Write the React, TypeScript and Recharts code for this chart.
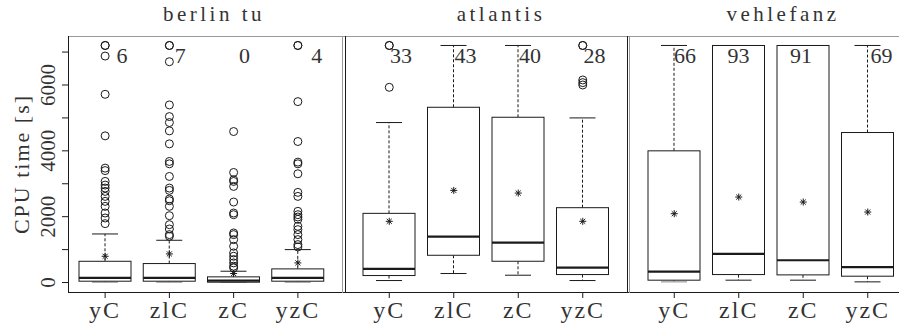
import React from "react";
import { ComposedChart, Bar, Scatter, XAxis, YAxis } from "recharts";

const INK = "#1a1a1a";
const FONT = "Liberation Serif, Times New Roman, DejaVu Serif, serif";

const categories = ["yC", "zlC", "zC", "yzC"];
const yTicks = [0, 1000, 2000, 3000, 4000, 5000, 6000, 7000];

// berlin tu
const berlinLow = [10, 10, 5, 10];
const berlinQ1 = [40, 40, 10, 40];
const berlinMedian = [142, 142, 60, 142];
const berlinQ3 = [645, 576, 172, 414];
const berlinHigh = [1475, 1283, 343, 1000];
const berlinMean = [797, 869, 273, 596];
const berlinTimeouts = [6, 7, 0, 4];
const berlinOutliers = [
  [7200, 7200, 6879, 5717, 4455, 3475, 3400, 3071, 2960, 2870, 2768, 2616, 2465, 2313, 2111, 1960, 1788],
  [7200, 7200, 6707, 5394, 5040, 4859, 4606, 4212, 3677, 3606, 3222, 2869, 2798, 2536, 2485, 2313, 2030, 1758, 1626, 1455, 1404],
  [4586, 3343, 3121, 3070, 2919, 2445, 2111, 2060, 1505, 1455, 1303, 1101, 899, 798, 697, 596, 495, 444],
  [7200, 7200, 5495, 4283, 3657, 3606, 3303, 2738, 2616, 2162, 2061, 1990, 1920, 1707, 1606, 1455, 1303, 1152, 1081],
];

// atlantis
const atlantisLow = [60, 273, 222, 60];
const atlantisQ1 = [212, 828, 646, 242];
const atlantisMedian = [414, 1394, 1212, 455];
const atlantisQ3 = [2101, 5323, 5020, 2273];
const atlantisHigh = [4859, 7200, 7200, 5000];
const atlantisMean = [1859, 2798, 2717, 1859];
const atlantisTimeouts = [33, 43, 40, 28];
const atlantisOutliers = [[7200, 7200, 5929], [], [], [7200, 7200, 6152, 6071, 6000]];

// vehlefanz
const vehlefanzLow = [20, 71, 71, 20];
const vehlefanzQ1 = [71, 242, 232, 192];
const vehlefanzMedian = [333, 869, 677, 465];
const vehlefanzQ3 = [4000, 7200, 7200, 4556];
const vehlefanzHigh = [7200, 7200, 7200, 7200];
const vehlefanzMean = [2091, 2596, 2444, 2141];
const vehlefanzTimeouts = [66, 93, 91, 69];
const vehlefanzOutliers: number[][] = [[], [], [], []];

const buildRows = (low: number[], q1: number[], med: number[], q3: number[], high: number[], mean: number[], timeouts: number[]) =>
  categories.map((cat, i) => ({
    cat,
    range: [low[i], high[i]],
    low: low[i],
    q1: q1[i],
    median: med[i],
    q3: q3[i],
    high: high[i],
    mean: mean[i],
    timeouts: timeouts[i],
  }));

const buildOutliers = (lists: number[][]) =>
  lists.flatMap((vals, i) => vals.map((v) => ({ cat: categories[i], v })));

const BoxShape = (props: any) => {
  const { x, y, width, height, payload, dx } = props;
  const top = Math.min(y, y + height);
  const bottom = Math.max(y, y + height);
  const k = (bottom - top) / (payload.high - payload.low);
  const py = (v: number) => bottom - (v - payload.low) * k;
  const cx = x + width / 2;
  const cap = width / 4;
  // short lower whiskers come out grey in the original
  const lowInk = py(payload.low) - py(payload.q1) < 3 ? "#888" : INK;
  return (
    <g>
      {payload.high > payload.q3 && (
        <>
          <line x1={cx} x2={cx} y1={py(payload.q3)} y2={py(payload.high)} stroke={INK} strokeDasharray="3 2" />
          <line x1={cx - cap} x2={cx + cap} y1={py(payload.high)} y2={py(payload.high)} stroke={INK} />
        </>
      )}
      {payload.low < payload.q1 && (
        <>
          <line x1={cx} x2={cx} y1={py(payload.q1)} y2={py(payload.low)} stroke={lowInk} strokeDasharray="3 2" />
          <line x1={cx - cap} x2={cx + cap} y1={py(payload.low)} y2={py(payload.low)} stroke={lowInk} />
        </>
      )}
      <rect x={x} y={py(payload.q3)} width={width} height={py(payload.q1) - py(payload.q3)} fill="#fff" stroke={INK} />
      <line x1={x} x2={x + width} y1={py(payload.median)} y2={py(payload.median)} stroke={INK} strokeWidth={2.2} />
      <text x={cx + dx} y={py(6667)} textAnchor="middle" fontSize={22} fill="#333" fontFamily={FONT}>
        {payload.timeouts}
      </text>
    </g>
  );
};

const Asterisk = (props: any) => {
  const { cx, cy } = props;
  const r = 3.5;
  const d = r * 0.72;
  return (
    <g stroke={INK} strokeWidth={1}>
      <line x1={cx - r} x2={cx + r} y1={cy} y2={cy} />
      <line x1={cx} x2={cx} y1={cy - r} y2={cy + r} />
      <line x1={cx - d} x2={cx + d} y1={cy - d} y2={cy + d} />
      <line x1={cx - d} x2={cx + d} y1={cy + d} y2={cy - d} />
    </g>
  );
};

const Ring = (props: any) => <circle cx={props.cx} cy={props.cy} r={4} fill="none" stroke={INK} strokeWidth={1} />;

const YTick = (props: any) => {
  const { x, y, payload } = props;
  if (payload.value % 2000 !== 0) return null;
  return (
    <text x={x} y={y} transform={`rotate(-90, ${x}, ${y})`} textAnchor="middle" fontSize={21} fill="#333" fontFamily={FONT}>
      {payload.value}
    </text>
  );
};

const XTick = (props: any) => {
  const { x, y, payload } = props;
  return (
    <text x={x} y={y} dy="0.71em" textAnchor="middle" fontSize={24} fill="#333" fontFamily={FONT} letterSpacing={2}>
      {payload.value}
    </text>
  );
};

interface PanelProps {
  rows: any[];
  outliers: { cat: string; v: number }[];
  width: number;
  padLeft: number;
  padRight: number;
  showY: boolean;
  countDx: number[];
}

const Panel = ({ rows, outliers, width, padLeft, padRight, showY, countDx }: PanelProps) => (
  <ComposedChart width={width} height={324} data={rows} margin={{ top: 36, right: 0, bottom: 0, left: 0 }}>
    <XAxis
      dataKey="cat"
      type="category"
      allowDuplicatedCategory={false}
      padding={{ left: padLeft, right: padRight }}
      axisLine={false}
      tickLine={{ stroke: INK }}
      tickSize={6}
      tickMargin={3}
      height={32}
      interval={0}
      tick={<XTick />}
    />
    <YAxis
      type="number"
      domain={[-288, 7488]}
      ticks={yTicks}
      interval={0}
      hide={!showY}
      width={68}
      axisLine={false}
      tickLine={{ stroke: INK }}
      tickSize={6}
      tickMargin={7}
      tick={<YTick />}
      label={{
        value: "CPU time [s]",
        angle: -90,
        position: "insideLeft",
        offset: 21,
        style: { textAnchor: "middle", fontSize: 22, fill: "#333", fontFamily: FONT, letterSpacing: 2 },
      }}
    />
    <Bar
      dataKey="range"
      barSize={52}
      isAnimationActive={false}
      shape={(p: any) => <BoxShape {...p} dx={countDx[p.index]} />}
    />
    {outliers.length > 0 && <Scatter data={outliers} dataKey="v" shape={<Ring />} isAnimationActive={false} />}
    <Scatter dataKey="mean" shape={<Asterisk />} isAnimationActive={false} />
  </ComposedChart>
);

const titleStyle = (center: number): React.CSSProperties => ({
  position: "absolute",
  top: 4,
  left: center - 100,
  width: 200,
  textAlign: "center",
  fontFamily: FONT,
  fontSize: 21,
  lineHeight: "21px",
  letterSpacing: 3.5,
  color: "#333",
});

const line = (l: number, t: number, w: number, h: number, c: string): React.CSSProperties => ({
  position: "absolute",
  left: l,
  top: t,
  width: w,
  height: h,
  background: c,
});

export default function App() {
  return (
    <div style={{ position: "absolute", left: 0, top: 0, width: 899, height: 324, overflow: "hidden", background: "#fff" }}>
      <div style={{ position: "absolute", left: 0, top: 0 }}>
        <Panel
          rows={buildRows(berlinLow, berlinQ1, berlinMedian, berlinQ3, berlinHigh, berlinMean, berlinTimeouts)}
          outliers={buildOutliers(berlinOutliers)}
          width={342}
          padLeft={5}
          padRight={12}
          showY
          countDx={[17, 11, 11, 19]}
        />
      </div>
      <div style={{ position: "absolute", left: 345, top: 0 }}>
        <Panel
          rows={buildRows(atlantisLow, atlantisQ1, atlantisMedian, atlantisQ3, atlantisHigh, atlantisMean, atlantisTimeouts)}
          outliers={buildOutliers(atlantisOutliers)}
          width={282}
          padLeft={12}
          padRight={12}
          showY={false}
          countDx={[12, 12, 12, 12]}
        />
      </div>
      <div style={{ position: "absolute", left: 629, top: 0 }}>
        <Panel
          rows={buildRows(vehlefanzLow, vehlefanzQ1, vehlefanzMedian, vehlefanzQ3, vehlefanzHigh, vehlefanzMean, vehlefanzTimeouts)}
          outliers={buildOutliers(vehlefanzOutliers)}
          width={283}
          padLeft={13}
          padRight={12}
          showY={false}
          countDx={[11, 0, -2, 14]}
        />
      </div>
      <div style={titleStyle(214)}>berlin tu</div>
      <div style={titleStyle(501)}>atlantis</div>
      <div style={titleStyle(783)}>vehlefanz</div>
      <div style={line(68, 36, 831, 1, "#999")} />
      <div style={line(68, 292, 831, 1, INK)} />
      <div style={line(68, 36, 1, 257, INK)} />
      <div style={line(342, 36, 1, 257, "#999")} />
      <div style={line(345, 36, 1, 257, INK)} />
      <div style={line(627, 36, 1, 257, INK)} />
      <div style={line(629, 36, 1, 257, "#999")} />
    </div>
  );
}
